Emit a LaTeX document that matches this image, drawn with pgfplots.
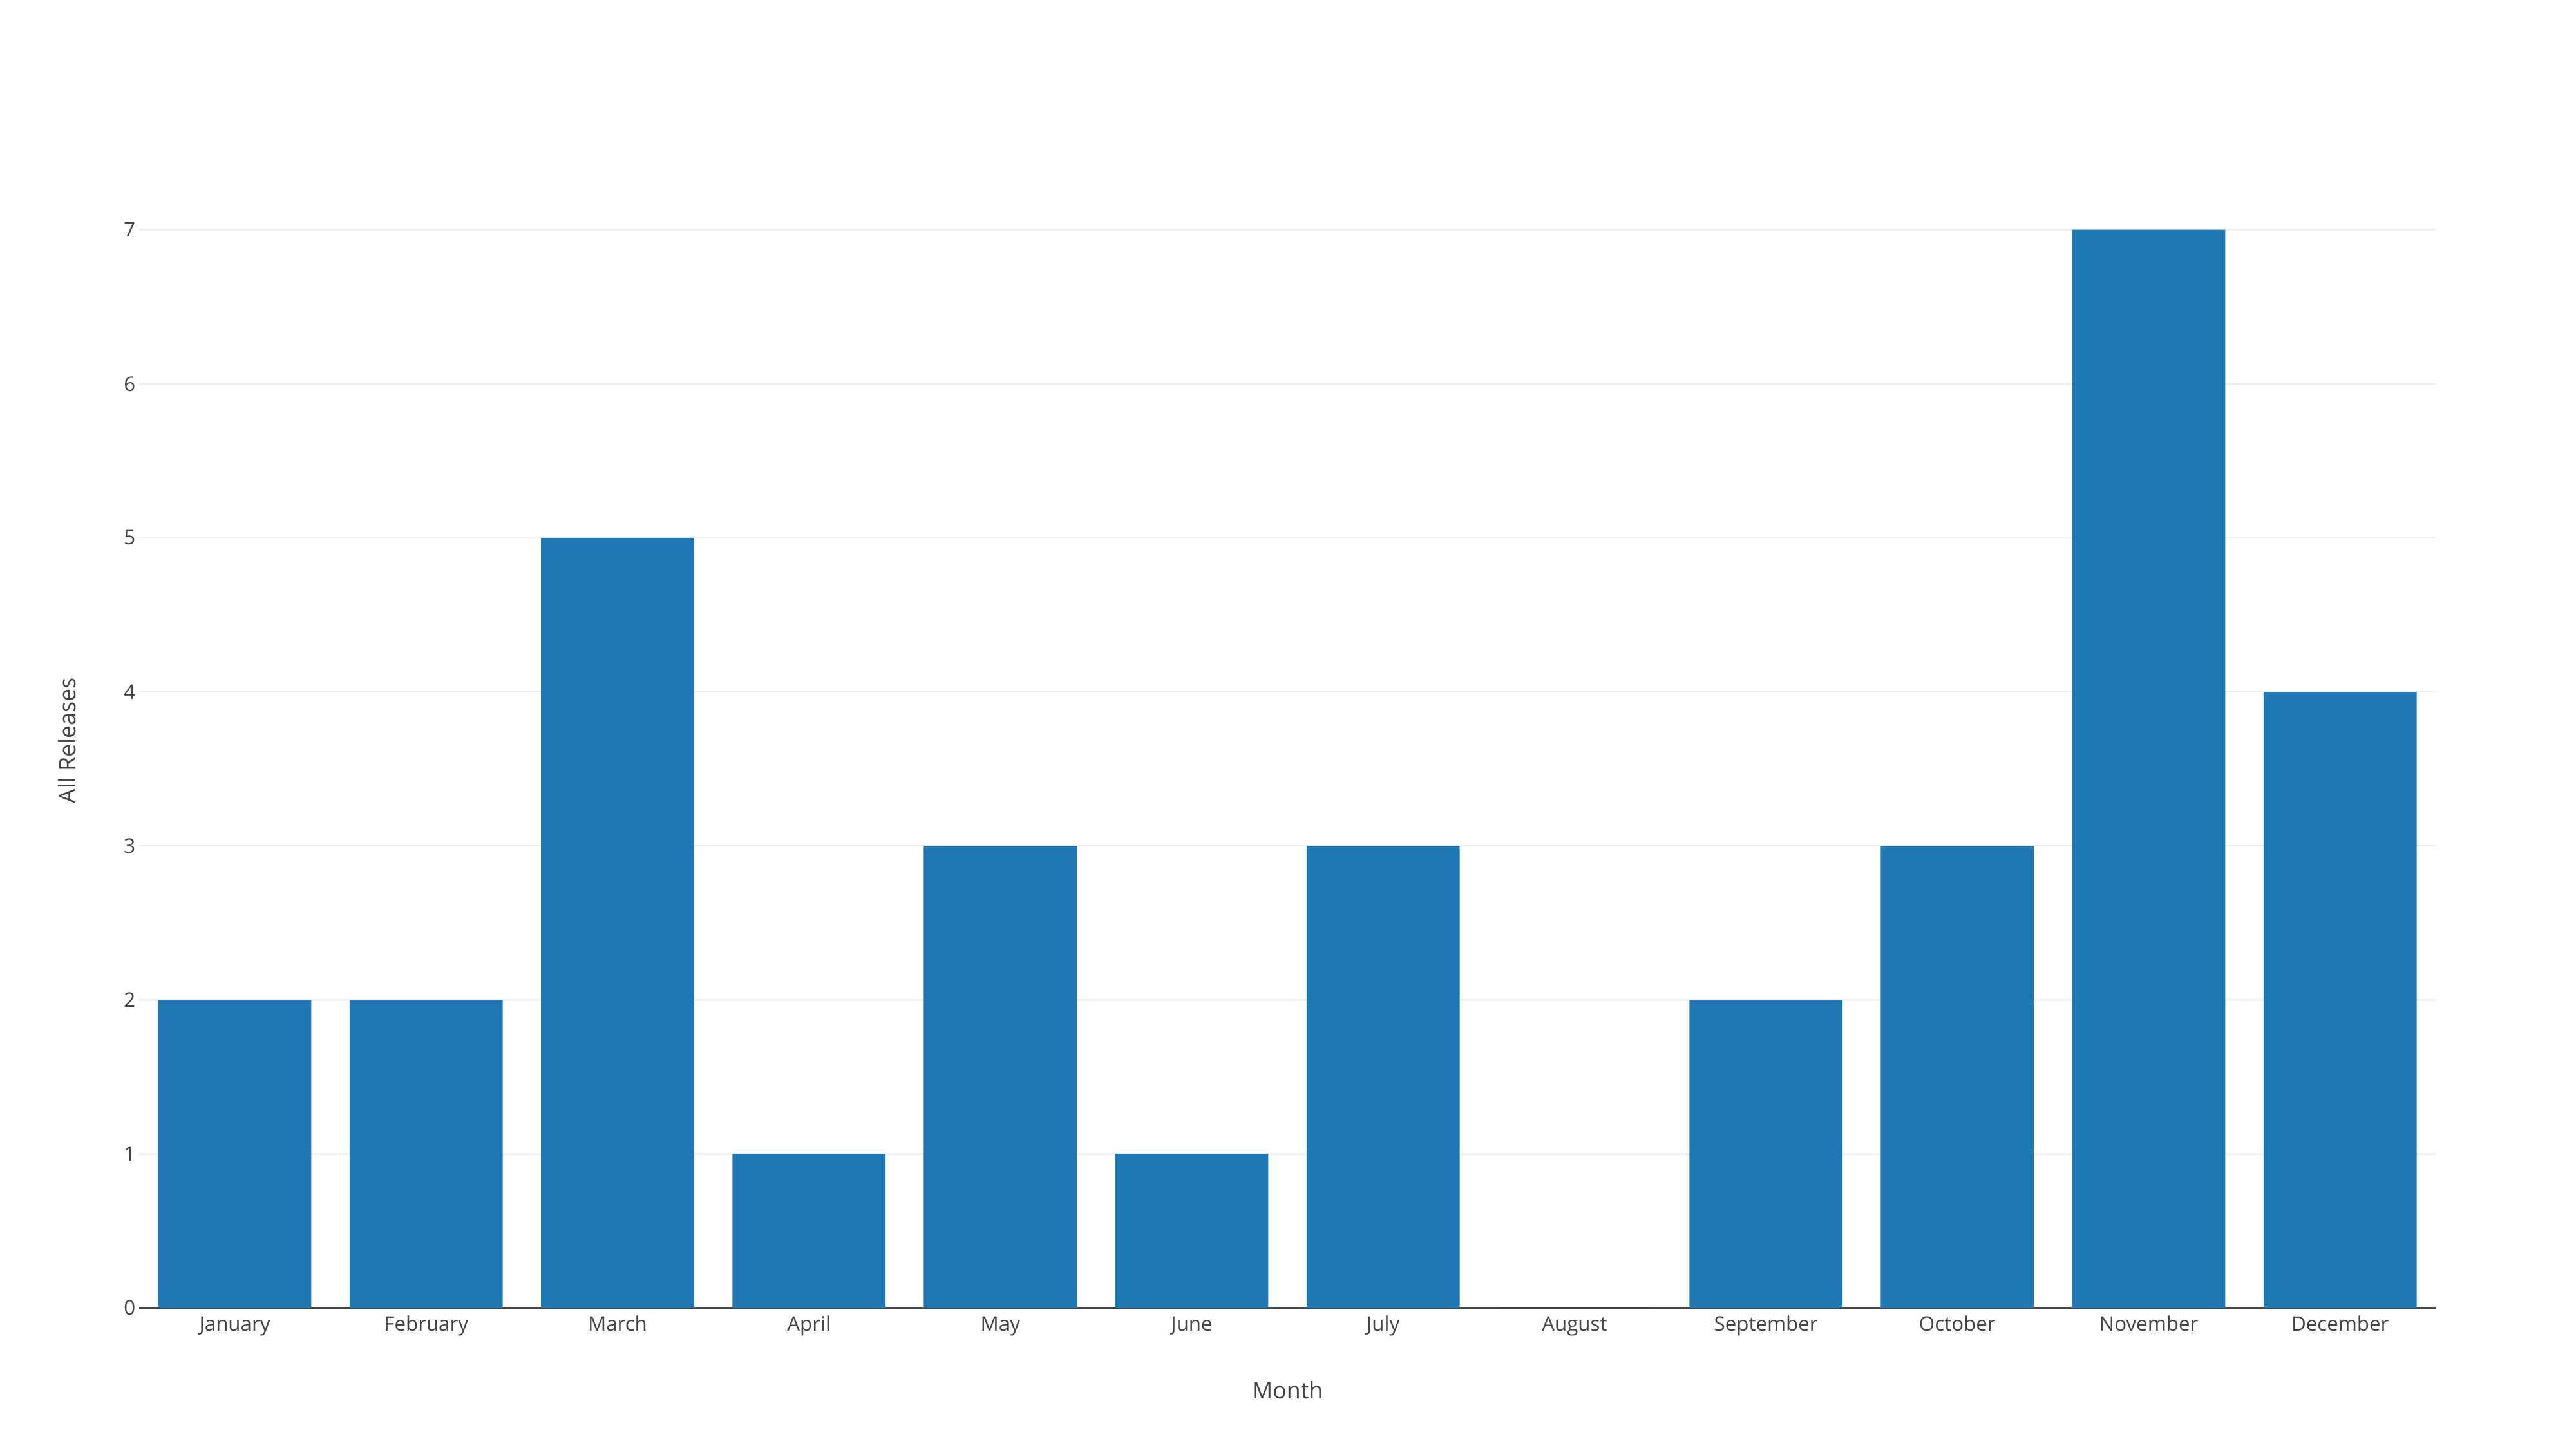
\documentclass[border=0pt]{standalone}
\usepackage{fontspec}
\setmainfont{Open Sans}
\usepackage{pgfplots}
\pgfplotsset{compat=1.18}
\definecolor{barblue}{HTML}{1F77B4}
\definecolor{txt}{HTML}{444444}
\definecolor{gridc}{HTML}{EEEEEE}
\begin{document}
\begin{tikzpicture}
\path[use as bounding box] (0,0) rectangle (1176pt,660.75pt);
\begin{axis}[
  at={(63.5pt,63.75pt)}, anchor=south west,
  scale only axis, width=1048.5pt, height=518pt,
  xmin=-0.5, xmax=11.5, ymin=0, ymax=7.368,
  xtick=data,
  xticklabels={January,February,March,April,May,June,July,August,September,October,November,December},
  ytick={0,1,2,3,4,5,6,7},
  /pgf/number format/assume math mode=true,
  axis x line=bottom, axis y line=left,
  x axis line style={-, draw=txt, line width=0.75pt},
  y axis line style={draw=none},
  major tick length=0pt,
  ymajorgrids, major grid style={draw=gridc, line width=0.75pt},
  tick label style={font=\fontsize{9.2}{10}\selectfont, text=txt},
  xticklabel style={anchor=base, inner sep=0pt, yshift=-10.5pt},
  yticklabel style={anchor=east, inner sep=0pt, xshift=-1.5pt},
  label style={font=\fontsize{10.5}{12}\selectfont, text=txt},
  xlabel={Month},
  ylabel={All Releases},
  xlabel style={at={(axis description cs:0.5,0)}, anchor=center, yshift=-37.5pt},
  ylabel style={at={(axis description cs:0,0.5)}, anchor=center, yshift=33pt},
]
\addplot[ybar, bar width=0.8, fill=barblue, draw=none] coordinates {
 (0,2) (1,2) (2,5) (3,1) (4,3) (5,1) (6,3) (7,0) (8,2) (9,3) (10,7) (11,4)
};
\end{axis}
\end{tikzpicture}
\end{document}
